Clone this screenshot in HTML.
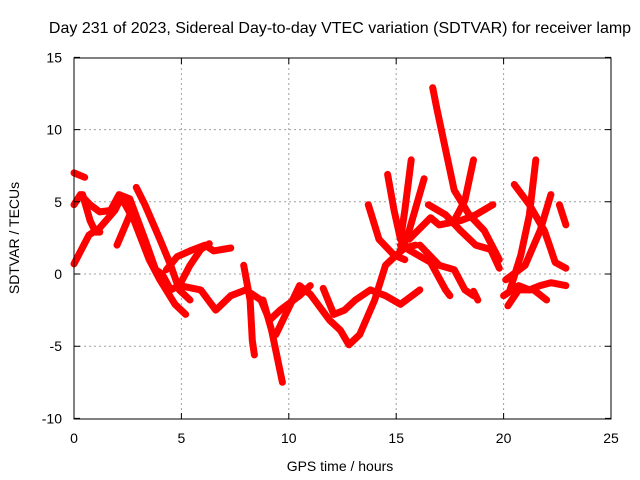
<!DOCTYPE html>
<html><head><meta charset="utf-8"><style>
body{margin:0;background:#fff;}
svg{display:block;font-family:"Liberation Sans",sans-serif;}
</style></head><body>
<svg id="chart" width="640" height="480" viewBox="0 0 640 480">
<text x="340" y="33" font-size="16" text-anchor="middle">Day 231 of 2023, Sidereal Day-to-day VTEC variation (SDTVAR) for receiver lamp</text>
<g id="grid"></g>
<g id="series"></g>
<rect x="74" y="58" width="537" height="361" fill="none" stroke="#000" stroke-width="1"/>
<g id="axes"></g>
<text x="340" y="471" font-size="14" text-anchor="middle">GPS time / hours</text>
<text transform="translate(19,238) rotate(-90)" font-size="14" text-anchor="middle">SDTVAR / TECUs</text>
</svg>
<script>
const xTicks = [0,5,10,15,20,25];
const yTicks = [-10,-5,0,5,10,15];
const tracks = [
 [[0,0.7],[0.7,2.7],[1.2,3.2],[1.9,4.4],[2.2,5.3],[2.8,3.7],[3.5,1],[4,-0.4],[4.7,-2.1],[5.2,-2.8]],
 [[0,4.8],[0.3,5.5],[0.75,4.8],[1.2,4.3],[1.7,4.4],[2.1,5.5],[2.6,5.2],[3.3,2.4],[3.8,0.3],[4.1,0],[4.5,-1.1],[4.9,-0.8],[5.4,0.6],[5.9,1.7],[6.3,2.1]],
 [[0,7],[0.5,6.7]],
 [[0.4,5.5],[0.75,3.7],[1,2.9],[1.2,2.9]],
 [[2,2],[2.4,3.4],[2.6,4.1]],
 [[2.9,6],[3.3,4.8],[4,2.4],[4.5,0.6],[4.9,-1.1],[5.4,-1.8]],
 [[4.3,0.3],[4.8,1.2],[5.4,1.6],[6.1,2],[6.5,1.6],[7.3,1.8]],
 [[4.9,-0.8],[5.9,-1.1],[6.6,-2.5],[7.3,-1.5],[8,-1.1],[8.7,-1.8],[9.1,-3.2],[9.6,-2.5],[10.5,-1.5],[11,-0.8]],
 [[7.9,0.6],[8.2,-1.8],[8.3,-4.6],[8.4,-5.6]],
 [[8.8,-1.8],[9.2,-3.9],[9.7,-7.5]],
 [[9.4,-4.2],[10.5,-0.8],[11,-1.4],[11.9,-3.2],[12.4,-3.9],[12.8,-4.9],[13.3,-4.2],[14,-1.8],[14.5,0.6],[15,1.3],[15.4,1.8],[15.9,2]],
 [[11.6,-1],[12.1,-2.8],[12.6,-2.5],[13.1,-1.8],[13.8,-1.1],[14.5,-1.5],[15.2,-2.1],[16.1,-1.1]],
 [[13.7,4.8],[14.2,2.4],[14.9,1.3],[15.4,1]],
 [[14.6,6.9],[14.9,4.4],[15.2,2.4],[15.6,1.7]],
 [[15.7,7.9],[15.4,4.4],[15.2,2.4]],
 [[16.3,6.6],[15.6,3],[15.2,1.7]],
 [[16.7,12.9],[16.9,11.4],[17.3,8.6],[17.7,5.8],[18.4,4.1],[19.1,3],[19.8,1]],
 [[18.6,7.9],[18.2,5.1],[17.7,3.7]],
 [[16.5,4.8],[17.3,4.1],[18,3],[18.7,2],[19.4,1.7],[19.8,0.4]],
 [[15.6,2.4],[16.6,3.9],[17.0,3.4],[18,3.7],[18.7,4.1],[19.5,4.8]],
 [[16.1,2],[17,0.6],[17.7,0.3],[18.2,-1.1],[18.6,-1.5]],
 [[15.2,2],[16.6,0.8],[17.3,-1.1],[17.5,-1.5]],
 [[18.6,-1.2],[18.8,-1.8]],
 [[20.5,6.2],[21.2,4.8],[21.9,3],[22.2,1.7],[22.4,0.8],[22.9,0.4]],
 [[21.5,7.9],[21.2,4.1],[20.8,1.3],[20.3,-1.1]],
 [[22.2,5.5],[21.7,3],[21,0.6],[20.1,-0.4]],
 [[22.6,4.8],[22.9,3.4]],
 [[20,-1.5],[20.7,-0.8],[21.2,-1.1],[21.7,-0.8],[22.2,-0.6],[22.9,-0.8]],
 [[20.2,-2.2],[20.7,-1.1],[21.4,-1.1],[22,-1.8]]
];
const X = t => 74 + t * 537 / 25;
const Y = v => 274 - v * 361 / 25;
const ns = "http://www.w3.org/2000/svg";
const grid = document.getElementById('grid');
const axes = document.getElementById('axes');
const series = document.getElementById('series');
function mk(tag, attrs, parent) {
  const e = document.createElementNS(ns, tag);
  for (const k in attrs) e.setAttribute(k, attrs[k]);
  parent.appendChild(e);
  return e;
}
xTicks.forEach(t => {
  const x = X(t);
  if (t > 0 && t < 25) {
    const g = mk('line', {x1:x, y1:58, x2:x, y2:419, stroke:'#a0a0a0', 'stroke-dasharray':'2,3'}, grid);
    
    
  }
  const tk = mk('path', {d:`M${x},419v-6M${x},58v6`, stroke:'#000'}, axes);
  
  
  const lb = mk('text', {x:x, y:443, 'font-size':14, 'text-anchor':'middle'}, axes);
  lb.textContent = t;
  
  
});
yTicks.forEach(v => {
  const y = Y(v);
  if (v > -10 && v < 15) {
    const g = mk('line', {x1:74, y1:y, x2:611, y2:y, stroke:'#a0a0a0', 'stroke-dasharray':'2,3'}, grid);
    
    
  }
  const tk = mk('path', {d:`M74,${y}h6M611,${y}h-6`, stroke:'#000'}, axes);
  
  
  const lb = mk('text', {x:62, y:y+5, 'font-size':14, 'text-anchor':'end'}, axes);
  lb.textContent = v;
  
  
});
tracks.forEach(tr => {
  const pts = tr.map(p => X(p[0]).toFixed(1) + ',' + Y(p[1]).toFixed(1)).join(' ');
  const pl = mk('polyline', {points:pts, fill:'none', stroke:'#ff0000', 'stroke-width':7, 'stroke-linejoin':'round', 'stroke-linecap':'round'}, series);
  
  
});
</script>
</body></html>
